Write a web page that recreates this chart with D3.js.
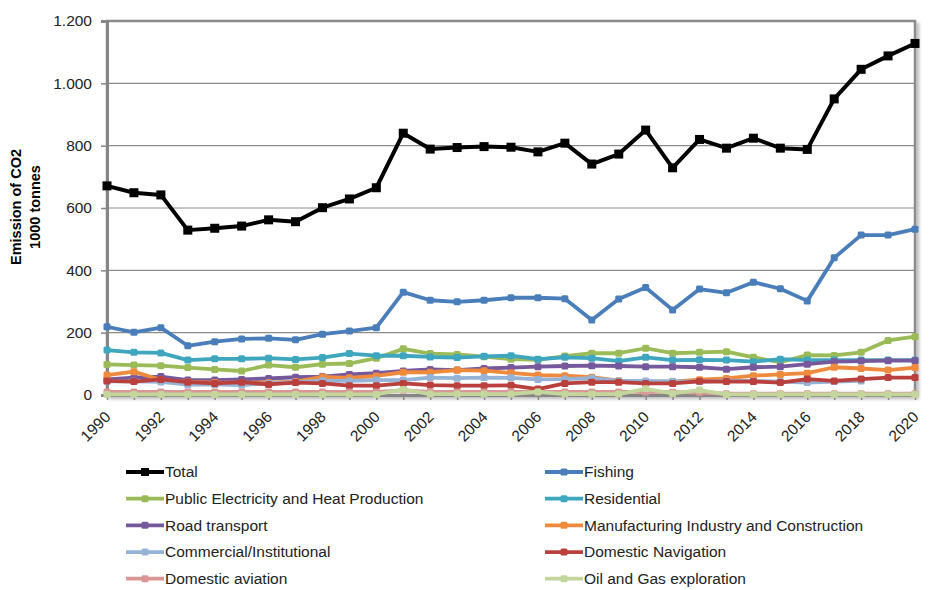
<!DOCTYPE html>
<html>
<head>
<meta charset="utf-8">
<script src="https://cdn.jsdelivr.net/npm/d3@7"></script>
<style>
  body { margin: 0; background: #fff; }
  svg { display: block; }
  text { font-family: "Liberation Sans", Arial, sans-serif; }
</style>
</head>
<body>
<svg id="chart" width="930" height="590"></svg>
<script>
// ---------------- DATA ----------------
const years = [1990,1991,1992,1993,1994,1995,1996,1997,1998,1999,2000,2001,2002,2003,2004,2005,2006,2007,2008,2009,2010,2011,2012,2013,2014,2015,2016,2017,2018,2019,2020];
const yTicks = [0,200,400,600,800,1000,1200];
const xLabelYears = [1990,1992,1994,1996,1998,2000,2002,2004,2006,2008,2010,2012,2014,2016,2018,2020];

const total         = [671,649,642,529,535,542,562,556,601,629,665,840,789,794,797,795,780,808,741,773,850,729,820,792,824,792,788,950,1045,1088,1128];
const fishing       = [219,201,216,158,171,180,182,177,195,205,216,330,304,299,304,312,312,309,241,308,345,273,340,328,362,341,302,440,513,513,532];
const publicElec    = [98,96,94,88,82,77,96,89,99,101,118,148,133,130,123,115,113,125,134,134,150,134,137,139,121,105,128,127,137,175,187];
const residential   = [144,137,135,112,116,116,118,114,120,133,126,126,122,120,124,126,115,121,118,109,121,112,113,112,107,115,112,112,112,112,112];
const roadTransport = [50,56,59,48,48,50,53,57,59,66,70,77,82,80,85,88,91,93,94,93,91,91,89,83,89,91,99,107,109,110,110];
const manufacturing = [64,75,48,42,40,40,40,43,58,55,61,73,73,80,78,71,64,62,57,46,43,43,49,53,62,66,70,89,85,80,88];
const commercial    = [44,44,42,33,34,32,37,41,46,45,48,48,56,54,56,55,50,51,54,45,45,44,43,45,45,43,40,43,45,null,null];
const navigation    = [45,43,50,41,37,41,34,40,37,30,30,37,32,30,30,31,19,37,41,41,37,37,44,43,43,40,51,45,51,56,56];
const aviation      = [10,10,10,10,10,10,10,10,10,10,10,15,10,10,10,10,10,10,10,10,10,9,8,4,4,4,4,4,4,4,4];
const oilGas        = [2,2,2,2,2,2,2,2,2,2,2,18,3,3,3,3,10,3,3,3,20,5,16,2,2,2,2,2,2,2,2];

const seriesNames  = ["Total","Fishing","Public Electricity and Heat Production","Residential","Road transport","Manufacturing Industry and Construction","Commercial/Institutional","Domestic Navigation","Domestic aviation","Oil and Gas exploration"];
const seriesValues = [total, fishing, publicElec, residential, roadTransport, manufacturing, commercial, navigation, aviation, oilGas];
const seriesColors = ["#000000","#4a7ebb","#9bbb59","#3fa6bf","#76599c","#ef8a3c","#95b3d7","#b9403d","#d99694","#c3d69b"];

// ---------------- LAYOUT ----------------
const svg = d3.select("#chart");
const x0 = 107, x1 = 915, y0 = 21, y1 = 395;

const x = d3.scaleLinear().domain([years[0], years[years.length-1]]).range([x0, x1]);
const y = d3.scaleLinear().domain([0, 1200]).range([y1, y0]);

const locale = d3.formatLocale({decimal: ",", thousands: ".", grouping: [3], currency: ["", ""]});
const fmt = locale.format(",");

// drop shadow
const defs = svg.append("defs");
const f = defs.append("filter").attr("id","shadow").attr("x","-5%").attr("y","-5%").attr("width","110%").attr("height","110%");
f.append("feDropShadow").attr("dx",3).attr("dy",3).attr("stdDeviation",1.5).attr("flood-color","#000").attr("flood-opacity",0.25);

// plot border with shadow
svg.append("rect")
  .attr("x", x0).attr("y", y0).attr("width", x1 - x0).attr("height", y1 - y0)
  .attr("fill", "#fff").attr("stroke", "#8c8c8c").attr("stroke-width", 2.5)
  .attr("filter", "url(#shadow)");

// gridlines
svg.append("g").selectAll("line").data(yTicks.filter(d => d > 0 && d < 1200)).join("line")
  .attr("x1", x0).attr("x2", x1)
  .attr("y1", d => y(d)).attr("y2", d => y(d))
  .attr("stroke", "#8c8c8c").attr("stroke-width", 1.2);

// Y axis
const yAxis = svg.append("g").attr("transform", `translate(${x0},0)`)
  .call(d3.axisLeft(y).tickValues(yTicks).tickFormat(d => fmt(d)).tickSize(6).tickPadding(9));
yAxis.select(".domain").attr("stroke", "#868686").attr("stroke-width", 3);
yAxis.selectAll(".tick line").attr("stroke", "#868686").attr("stroke-width", 1.5);
yAxis.selectAll(".tick text").attr("font-size", "15.5px").attr("fill", "#222")
  .attr("font-family", "Liberation Sans, Arial, sans-serif");

// X axis
const xAxis = svg.append("g").attr("transform", `translate(0,${y1})`)
  .call(d3.axisBottom(x).tickValues(years).tickFormat(d => xLabelYears.includes(d) ? String(d) : "").tickSize(5).tickSizeOuter(0));
xAxis.select(".domain").attr("stroke", "#868686").attr("stroke-width", 3);
xAxis.selectAll(".tick line").attr("stroke", "#868686").attr("stroke-width", 1.5);
xAxis.selectAll(".tick text")
  .attr("font-size", "15.5px").attr("fill", "#222")
  .attr("font-family", "Liberation Sans, Arial, sans-serif")
  .attr("text-anchor", "end")
  .attr("y", 0).attr("dy", 0)
  .attr("transform", "translate(4,23) rotate(-45)");

// Y title
const yt = svg.append("g").attr("font-weight", "bold").attr("font-size", "14.5px").attr("fill", "#000");
yt.append("text").attr("transform", "translate(17,207) rotate(-90)").attr("text-anchor", "middle")
  .attr("dominant-baseline", "middle").text("Emission of CO2");
yt.append("text").attr("transform", "translate(36,207) rotate(-90)").attr("text-anchor", "middle")
  .attr("dominant-baseline", "middle").text("1000 tonnes");

// Lines
const line = d3.line()
  .defined(d => d.v !== null)
  .x(d => x(d.year)).y(d => y(d.v));

const plot = svg.append("g");
seriesValues.forEach((vals, i) => {
  const data = years.map((yr, k) => ({year: yr, v: vals[k]}));
  const g = plot.append("g");
  const isTotal = i === 0;
  g.append("path").datum(data).attr("d", line)
    .attr("fill", "none").attr("stroke", seriesColors[i])
    .attr("stroke-width", isTotal ? 4 : 3.8).attr("stroke-linejoin", "round");
  const s = isTotal ? 9 : 7;
  g.selectAll("rect").data(data.filter(d => d.v !== null)).join("rect")
    .attr("x", d => x(d.year) - s/2).attr("y", d => y(d.v) - s/2)
    .attr("width", s).attr("height", s)
    .attr("rx", isTotal ? 0 : 1.5)
    .attr("fill", seriesColors[i]);
});

// Legend
const legend = svg.append("g");
const rowY = d3.scaleLinear().domain([0, 4]).range([472, 578.7]);
const colX = [126, 545];
seriesNames.forEach((name, i) => {
  const col = i % 2, row = Math.floor(i / 2);
  const lx = colX[col], ly = rowY(row);
  const g = legend.append("g");
  g.append("line").attr("x1", lx).attr("x2", lx + 38).attr("y1", ly).attr("y2", ly)
    .attr("stroke", seriesColors[i]).attr("stroke-width", i === 0 ? 4 : 3.8);
  const s = i === 0 ? 8 : 7;
  g.append("rect").attr("x", lx + 19 - s/2).attr("y", ly - s/2).attr("width", s).attr("height", s)
    .attr("rx", i === 0 ? 0 : 1.5).attr("fill", seriesColors[i]);
  g.append("text").attr("x", lx + 39).attr("y", ly).attr("dy", "0.35em")
    .attr("font-size", "15.5px").attr("fill", "#222").text(name);
});
</script>
</body>
</html>
